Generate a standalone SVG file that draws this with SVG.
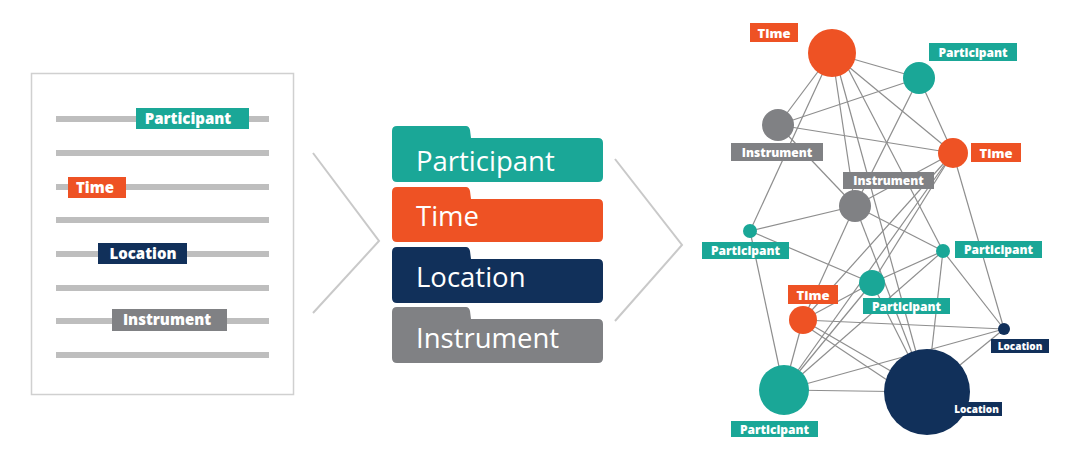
<svg xmlns="http://www.w3.org/2000/svg" width="1080" height="451" viewBox="0 0 1080 451">
<style>
.teal{fill:#1aa797}.orange{fill:#ee5224}.navy{fill:#11305a}.gray{fill:#808184}
.docline{stroke:#bebebe;stroke-width:6}
.chev{fill:none;stroke:#c9c9c9;stroke-width:2}
.edge{stroke:#8e8e8e;stroke-width:1.2}
.lt{font-family:"Open Sans","Liberation Sans",sans-serif;font-weight:800;fill:#fff;text-anchor:middle}
.ft{font-family:"Open Sans","Liberation Sans",sans-serif;font-weight:400;fill:#fff;font-size:27.5px}
</style>
<rect width="1080" height="451" fill="#fff"/>

<g id="document">
<rect x="31.5" y="73.5" width="262" height="321" fill="#fff" stroke="#d0d0d0" stroke-width="1.5"/>
<line class="docline" x1="56" y1="119" x2="269" y2="119"/>
<line class="docline" x1="56" y1="153" x2="269" y2="153"/>
<line class="docline" x1="56" y1="187" x2="269" y2="187"/>
<line class="docline" x1="56" y1="220" x2="269" y2="220"/>
<line class="docline" x1="56" y1="254" x2="269" y2="254"/>
<line class="docline" x1="56" y1="288" x2="269" y2="288"/>
<line class="docline" x1="56" y1="321" x2="269" y2="321"/>
<line class="docline" x1="56" y1="355" x2="269" y2="355"/>
<g id="doc-participant"><rect class="teal" x="136" y="108" width="113" height="21"/><text class="lt" x="188" y="124" font-size="15">Participant</text></g>
<g id="doc-time"><rect class="orange" x="68" y="177" width="58" height="21"/><text class="lt" x="95" y="193" font-size="15">Time</text></g>
<g id="doc-location"><rect class="navy" x="98" y="243" width="89" height="21"/><text class="lt" x="143" y="259" font-size="15">Location</text></g>
<g id="doc-instrument"><rect class="gray" x="112" y="309" width="115" height="22"/><text class="lt" x="167" y="325" font-size="15">Instrument</text></g>
</g>

<g id="chevrons">
<polyline class="chev" points="313,153 379,241 313,313"/>
<polyline class="chev" points="615,159 682,245 615,321"/>
</g>

<g id="folder-participant">
<path class="teal" d="M392,131 Q392,126 397,126 L466,126 Q469,126 470,130 L471,138 L598,138 Q603,138 603,143 L603,177 Q603,182 598,182 L397,182 Q392,182 392,177 Z"/>
<text class="ft" x="416" y="171">Participant</text>
</g>
<g id="folder-time">
<path class="orange" d="M392,192 Q392,187 397,187 L466,187 Q469,187 470,191 L471,199 L598,199 Q603,199 603,204 L603,237 Q603,242 598,242 L397,242 Q392,242 392,237 Z"/>
<text class="ft" x="416" y="226">Time</text>
</g>
<g id="folder-location">
<path class="navy" d="M392,252 Q392,247 397,247 L466,247 Q469,247 470,251 L471,259 L598,259 Q603,259 603,264 L603,298 Q603,303 598,303 L397,303 Q392,303 392,298 Z"/>
<text class="ft" x="416" y="287">Location</text>
</g>
<g id="folder-instrument">
<path class="gray" d="M392,312 Q392,307 397,307 L466,307 Q469,307 470,311 L471,319 L598,319 Q603,319 603,324 L603,358 Q603,363 598,363 L397,363 Q392,363 392,358 Z"/>
<text class="ft" x="416" y="348">Instrument</text>
</g>

<g id="connectors">
<line class="edge" x1="832" y1="53" x2="919" y2="78"/>
<line class="edge" x1="832" y1="53" x2="778" y2="125"/>
<line class="edge" x1="832" y1="53" x2="953" y2="153"/>
<line class="edge" x1="832" y1="53" x2="750" y2="231"/>
<line class="edge" x1="832" y1="53" x2="855" y2="206"/>
<line class="edge" x1="840" y1="53" x2="943" y2="251"/>
<line class="edge" x1="836" y1="60" x2="927" y2="392"/>
<line class="edge" x1="778" y1="125" x2="919" y2="78"/>
<line class="edge" x1="778" y1="125" x2="953" y2="153"/>
<line class="edge" x1="778" y1="125" x2="855" y2="206"/>
<line class="edge" x1="919" y1="78" x2="953" y2="153"/>
<line class="edge" x1="919" y1="78" x2="855" y2="206"/>
<line class="edge" x1="953" y1="153" x2="855" y2="206"/>
<line class="edge" x1="953" y1="153" x2="872" y2="283"/>
<line class="edge" x1="953" y1="153" x2="803" y2="320"/>
<line class="edge" x1="953" y1="153" x2="784" y2="390"/>
<line class="edge" x1="953" y1="153" x2="1004" y2="329"/>
<line class="edge" x1="855" y1="206" x2="750" y2="231"/>
<line class="edge" x1="855" y1="206" x2="943" y2="251"/>
<line class="edge" x1="855" y1="206" x2="803" y2="320"/>
<line class="edge" x1="855" y1="206" x2="927" y2="392"/>
<line class="edge" x1="750" y1="231" x2="872" y2="283"/>
<line class="edge" x1="750" y1="231" x2="784" y2="390"/>
<line class="edge" x1="943" y1="251" x2="872" y2="283"/>
<line class="edge" x1="943" y1="251" x2="784" y2="390"/>
<line class="edge" x1="943" y1="251" x2="1004" y2="329"/>
<line class="edge" x1="943" y1="251" x2="927" y2="392"/>
<line class="edge" x1="872" y1="283" x2="803" y2="320"/>
<line class="edge" x1="872" y1="283" x2="784" y2="390"/>
<line class="edge" x1="872" y1="283" x2="927" y2="392"/>
<line class="edge" x1="803" y1="320" x2="784" y2="390"/>
<line class="edge" x1="803" y1="320" x2="1004" y2="329"/>
<line class="edge" x1="803" y1="320" x2="920" y2="388"/>
<line class="edge" x1="803" y1="324" x2="914" y2="398"/>
<line class="edge" x1="784" y1="390" x2="927" y2="392"/>
<line class="edge" x1="784" y1="390" x2="1004" y2="329"/>
<line class="edge" x1="1004" y1="329" x2="927" y2="392"/>
</g>

<g id="node-time-1"><circle class="orange" cx="832" cy="53" r="24"/><rect class="orange" x="750" y="23" width="48" height="19"/><text class="lt" x="774" y="37.5" font-size="13">Time</text></g>
<g id="node-participant-1"><circle class="teal" cx="919" cy="78" r="16"/><rect class="teal" x="929" y="43" width="88" height="18"/><text class="lt" x="973" y="56.5" font-size="12">Participant</text></g>
<g id="node-instrument-1"><circle class="gray" cx="778" cy="125" r="16"/><rect class="gray" x="731" y="143" width="92" height="18"/><text class="lt" x="777" y="156.5" font-size="12">Instrument</text></g>
<g id="node-time-2"><circle class="orange" cx="953" cy="153" r="15"/><rect class="orange" x="971" y="143" width="50" height="19"/><text class="lt" x="996" y="157.5" font-size="13">Time</text></g>
<g id="node-instrument-2"><circle class="gray" cx="855" cy="206" r="16"/><rect class="gray" x="843" y="172" width="91" height="17"/><text class="lt" x="888.5" y="185" font-size="12">Instrument</text></g>
<g id="node-participant-2"><circle class="teal" cx="750" cy="231" r="7"/><rect class="teal" x="702" y="242" width="87" height="17"/><text class="lt" x="745.5" y="255" font-size="12">Participant</text></g>
<g id="node-participant-3"><circle class="teal" cx="943" cy="251" r="7"/><rect class="teal" x="955" y="241" width="87" height="17"/><text class="lt" x="998.5" y="254" font-size="12">Participant</text></g>
<g id="node-participant-4"><circle class="teal" cx="872" cy="283" r="13"/><rect class="teal" x="863" y="298" width="87" height="16"/><text class="lt" x="906.5" y="310.5" font-size="12">Participant</text></g>
<g id="node-time-3"><circle class="orange" cx="803" cy="320" r="14"/><rect class="orange" x="788" y="285" width="50" height="19"/><text class="lt" x="813" y="299.5" font-size="13">Time</text></g>
<g id="node-location-1"><circle class="navy" cx="1004" cy="329" r="6"/><rect class="navy" x="991" y="339" width="58" height="14"/><text class="lt" x="1020" y="350" font-size="10">Location</text></g>
<g id="node-participant-5"><circle class="teal" cx="784" cy="390" r="25"/><rect class="teal" x="731" y="421" width="87" height="16"/><text class="lt" x="774.5" y="433.5" font-size="12">Participant</text></g>
<g id="node-location-2"><circle class="navy" cx="927" cy="392" r="43"/><rect class="navy" x="951" y="402" width="51" height="14"/><text class="lt" x="976.5" y="413" font-size="10">Location</text></g>
</svg>
